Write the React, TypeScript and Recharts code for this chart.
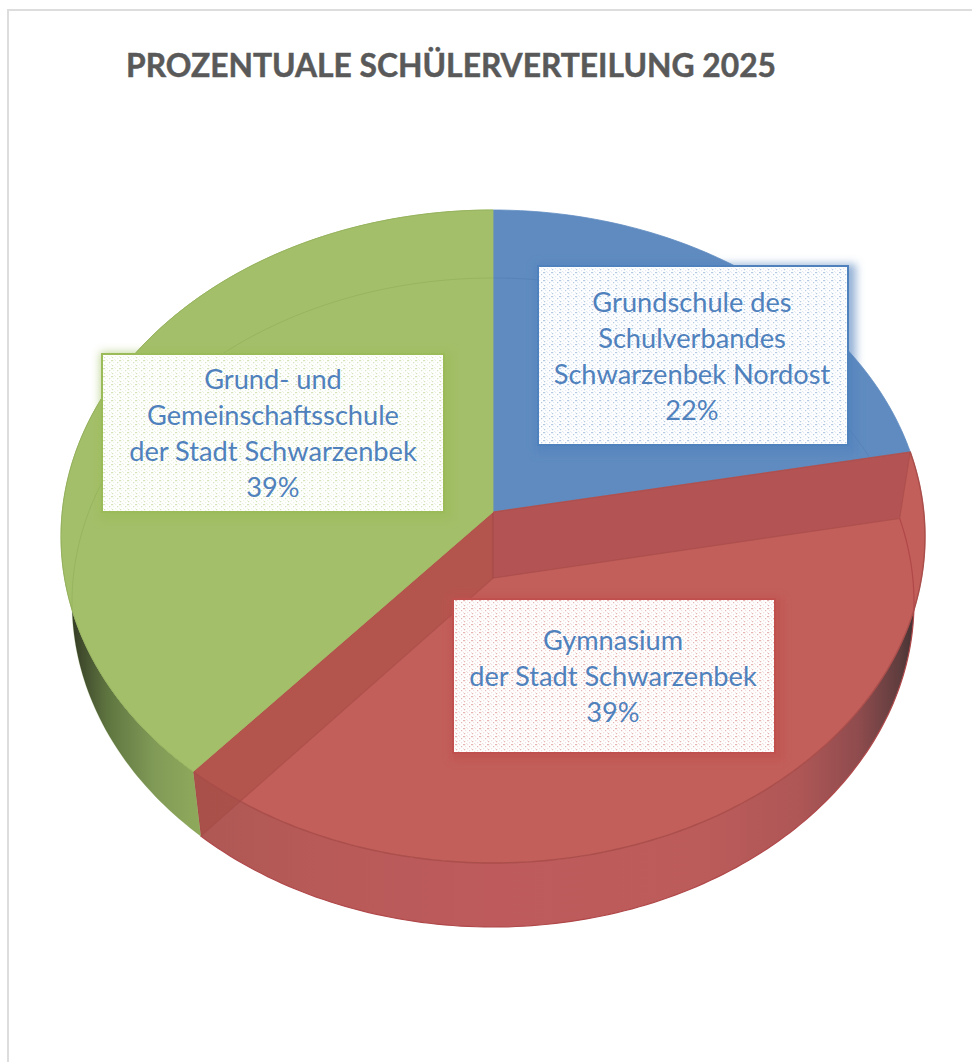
import React from "react";
import { PieChart, Pie, Cell } from "recharts";

const titleText = "PROZENTUALE SCHÜLERVERTEILUNG 2025";
const schools = [
  "Grundschule des|Schulverbandes|Schwarzenbek Nordost",
  "Gymnasium|der Stadt Schwarzenbek",
  "Grund- und|Gemeinschaftsschule|der Stadt Schwarzenbek",
];
const shares = [22, 39.4, 38.6];
const colors = ["#5F8BC0", "#C25F5A", "#A3BF69"];
const borderColors = ["#4F81BD", "#C0504D", "#9BBB59"];
const lineColors = ["rgba(60,100,160,0.22)", "#A64A48", "rgba(110,140,60,0.22)"];
const boxes = [
  { x: 538, y: 266, w: 310, h: 179, cx: 692, base: 312 },
  { x: 453, y: 599, w: 322, h: 154, cx: 613, base: 650 },
  { x: 102, y: 354, w: 342, h: 158, cx: 273, base: 389 },
];
const data = schools.map((name, i) => ({ name, value: shares[i] }));

const CX = 493;
const CY = 536.5;
const RX = 432;
const TILT = 326.5 / 432;
const SKEW = 0.075;
const BOTTOM = { dy: 66, sx: 421 / 432, sy: 324.5 / 326.5 };

type Pt = [number, number];

function project(thetaDeg: number, r: number, outer: number, cx: number, cy: number, low: boolean): Pt {
  const t = (thetaDeg * Math.PI) / 180;
  const u = r * Math.sin(t);
  const w = r * Math.cos(t);
  const d = 1 + SKEW * w;
  const uu = (u * Math.sqrt(1 - SKEW * SKEW)) / d;
  const ww = (w + SKEW) / d;
  const rx = outer * (low ? BOTTOM.sx : 1);
  const ry = outer * TILT * (low ? BOTTOM.sy : 1);
  return [cx + rx * uu, cy + (low ? BOTTOM.dy : 0) - ry * ww];
}

function arc(a: number, b: number, outer: number, cx: number, cy: number, low: boolean): Pt[] {
  const n = Math.max(2, Math.ceil(Math.abs(b - a)));
  const out: Pt[] = [];
  for (let i = 0; i <= n; i++) out.push(project(a + ((b - a) * i) / n, 1, outer, cx, cy, low));
  return out;
}

const toPath = (pts: Pt[], close = true) =>
  "M" + pts.map((p) => p[0].toFixed(2) + " " + p[1].toFixed(2)).join("L") + (close ? "Z" : "");

function Slice3D(props: any) {
  const { cx, cy, outerRadius, startAngle, endAngle, index } = props;
  const a = 90 - startAngle;
  const b = 90 - endAngle;
  const fill = colors[index];
  const line = lineColors[index];
  const top = arc(a, b, outerRadius, cx, cy, false);
  const low = arc(a, b, outerRadius, cx, cy, true);
  const v1 = project(0, 0, outerRadius, cx, cy, false);
  const v2 = project(0, 0, outerRadius, cx, cy, true);
  const wall = [...top, ...low.slice().reverse()];
  const isFront = index === 1;
  const hasWall = index !== 0;
  const first = (pts: Pt[]) => pts[0];
  const last = (pts: Pt[]) => pts[pts.length - 1];
  return (
    <g>
      {hasWall && <path d={toPath(wall)} fill={`url(#wall${index})`} />}
      <path d={toPath([v1, ...top])} fill={fill} stroke={fill} strokeWidth={0.8} />
      {isFront && (
        <>
          <path
            d={toPath([v1, first(top), first(low), v2])}
            fill="#9E4048"
            fillOpacity={0.4}
            stroke="#A64A48"
            strokeOpacity={0.55}
            strokeWidth={1.2}
          />
          <path
            d={toPath([v1, last(top), last(low), v2])}
            fill="#A0453A"
            fillOpacity={0.4}
            stroke="#A64A48"
            strokeOpacity={0.55}
            strokeWidth={1.2}
          />
          <path d={toPath(top, false)} fill="none" stroke={line} strokeOpacity={0.85} strokeWidth={1.4} />
          <path d={toPath(low, false)} fill="none" stroke="#B0484A" strokeWidth={1.2} />
        </>
      )}
      {!isFront && <path d={toPath(low, false)} fill="none" stroke={line} strokeWidth={1} />}
      {index === 2 && <path d={toPath(top, false)} fill="none" stroke="#93B05C" strokeWidth={0.8} />}
    </g>
  );
}

function BoxLabel(props: any) {
  const { index, name, percent } = props;
  const box = boxes[index];
  const lines = [...String(name).split("|"), `${Math.round(percent * 100)}%`];
  return (
    <g>
      <rect
        x={box.x - 2}
        y={box.y - 2}
        width={box.w + 10}
        height={box.h + 10}
        fill={borderColors[index]}
        fillOpacity={0.6}
        filter="url(#glow)"
      />
      <rect x={box.x} y={box.y} width={box.w} height={box.h} fill={`url(#dots${index})`} stroke={borderColors[index]} strokeWidth={2} />
      {lines.map((t, i) => (
        <text
          key={i}
          x={box.cx}
          y={box.base + i * 36}
          textAnchor="middle"
          fontFamily="Lato, sans-serif"
          fontSize={27.2}
          fill="#4F81BD"
        >
          {t}
        </text>
      ))}
    </g>
  );
}

function Dots({ id, color }: { id: string; color: string }) {
  const cells: Pt[] = [
    [0, 0], [3, 0], [1, 2], [5, 2], [3, 4], [7, 4], [0, 5], [5, 6], [2, 7], [7, 0],
  ];
  return (
    <pattern id={id} patternUnits="userSpaceOnUse" width={8} height={8}>
      <rect width={8} height={8} fill="#FFFFFF" />
      {cells.map((c, i) => (
        <rect key={i} x={c[0]} y={c[1]} width={1.25} height={1.25} fill={color} fillOpacity={i % 3 === 0 ? 0.42 : 0.18} />
      ))}
    </pattern>
  );
}

export default function App() {
  return (
    <div style={{ position: "absolute", left: 0, top: 0, width: 972, height: 1062, background: "#fff", overflow: "hidden" }}>
      <div
        style={{
          position: "absolute",
          left: 7,
          top: 9,
          width: 965,
          height: 1053,
          borderLeft: "2px solid #DDDDDD",
          borderTop: "2px solid #DDDDDD",
          boxSizing: "border-box",
        }}
      />
      <PieChart width={972} height={1062} margin={{ top: 0, right: 0, bottom: 0, left: 0 }} style={{ position: "absolute", left: 0, top: 0 }}>
        <defs>
          <linearGradient id="wall1" gradientUnits="userSpaceOnUse" x1={200} y1={0} x2={925} y2={0}>
            <stop offset="0" stopColor="#AE5854" />
            <stop offset="0.17" stopColor="#B85A58" />
            <stop offset="0.41" stopColor="#BE5A5C" />
            <stop offset="0.69" stopColor="#BC5C5A" />
            <stop offset="0.83" stopColor="#AE5656" />
            <stop offset="0.91" stopColor="#8E4B4D" />
            <stop offset="0.965" stopColor="#5F3D3E" />
            <stop offset="1" stopColor="#2F2A2A" />
          </linearGradient>
          <linearGradient id="wall2" gradientUnits="userSpaceOnUse" x1={64} y1={0} x2={200} y2={0}>
            <stop offset="0" stopColor="#2A2E20" />
            <stop offset="0.12" stopColor="#3F4A2C" />
            <stop offset="0.32" stopColor="#5F7540" />
            <stop offset="0.68" stopColor="#829C58" />
            <stop offset="1" stopColor="#8FA95B" />
          </linearGradient>
          <filter id="glow" x="-10%" y="-10%" width="120%" height="120%">
            <feGaussianBlur stdDeviation="4" />
          </filter>
          {borderColors.map((c, i) => (
            <Dots key={i} id={`dots${i}`} color={c} />
          ))}
        </defs>
        <text
          x={126}
          y={77}
          fontFamily="Lato, sans-serif"
          fontWeight={700}
          fontSize={33}
          fill="#595959"
          stroke="#595959"
          strokeWidth={0.5}
          textLength={650}
          lengthAdjust="spacingAndGlyphs"
        >
          {titleText}
        </text>
        <Pie
          data={data}
          dataKey="value"
          nameKey="name"
          cx={CX}
          cy={CY}
          innerRadius={0}
          outerRadius={RX}
          startAngle={90}
          endAngle={-270}
          stroke="none"
          isAnimationActive={false}
          shape={Slice3D}
          label={BoxLabel}
          labelLine={false}
        >
          {data.map((d, i) => (
            <Cell key={d.name} fill={colors[i]} />
          ))}
        </Pie>
      </PieChart>
    </div>
  );
}
